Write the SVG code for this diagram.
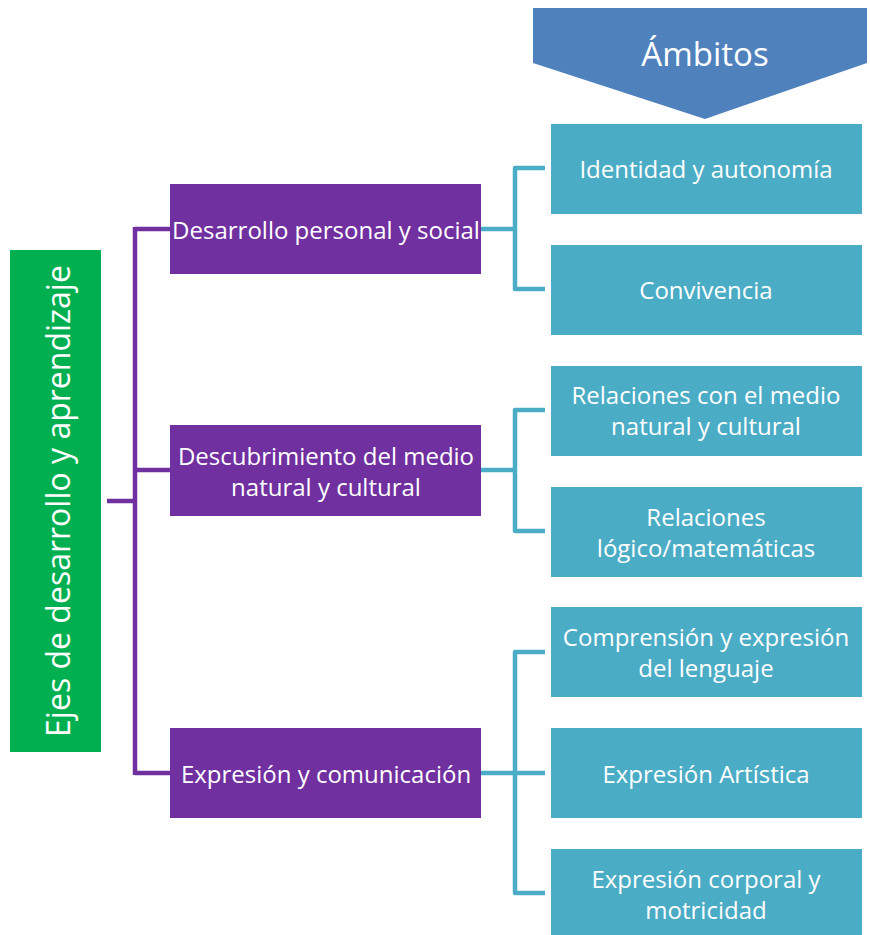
<svg xmlns="http://www.w3.org/2000/svg" width="870" height="935" viewBox="0 0 870 935">
<style>
text{font-family:"Open Sans","Liberation Sans",sans-serif;fill:#fff;text-anchor:middle;dominant-baseline:central}
.p{fill:#7030A0}.c{fill:#4BACC6}
.lp{fill:none;stroke:#7030A0;stroke-width:4.5}
.lc{fill:none;stroke:#4BACC6;stroke-width:4.5;stroke-linejoin:round}
.t{font-size:24px}
</style>
<rect width="870" height="935" fill="#fff"/>
<g id="connectors">
<path class="lp" d="M107,501H135M135,227V775M135,229H170M135,470H170M135,773H170"/>
<path class="lc" d="M481,229H515M545,168H515V289H545"/>
<path class="lc" d="M481,470H515M545,410H515V531H545"/>
<path class="lc" d="M481,773H545M545,652H515V893H545"/>
</g>
<g id="ambitos"><polygon points="533,8 867,8 867,63 705,119 533,63" fill="#4F81BD"/><text x="705" y="53" style="font-size:33px">Ámbitos</text></g>
<g id="ejes"><rect x="10" y="250" width="91" height="502" fill="#00B050"/><text transform="translate(57,501) rotate(-90)" style="font-size:32px">Ejes de desarrollo y aprendizaje</text></g>
<g id="dps"><rect class="p" x="170" y="184" width="311" height="90"/><text class="t" x="326" y="229">Desarrollo personal y social</text></g>
<g id="dmnc"><rect class="p" x="170" y="425" width="311" height="91"/><text class="t" x="326" y="455">Descubrimiento del medio</text><text class="t" x="326" y="486">natural y cultural</text></g>
<g id="eyc"><rect class="p" x="170" y="728" width="311" height="90"/><text class="t" x="326" y="773">Expresión y comunicación</text></g>
<g id="ia"><rect class="c" x="551" y="124" width="311" height="90"/><text class="t" x="706" y="168">Identidad y autonomía</text></g>
<g id="conv"><rect class="c" x="551" y="245" width="311" height="90"/><text class="t" x="706" y="289">Convivencia</text></g>
<g id="rmnc"><rect class="c" x="551" y="366" width="311" height="90"/><text class="t" x="706" y="394">Relaciones con el medio</text><text class="t" x="706" y="425">natural y cultural</text></g>
<g id="rlm"><rect class="c" x="551" y="487" width="311" height="90"/><text class="t" x="706" y="516">Relaciones</text><text class="t" x="706" y="547">lógico/matemáticas</text></g>
<g id="cel"><rect class="c" x="551" y="607" width="311" height="90"/><text class="t" x="706" y="636">Comprensión y expresión</text><text class="t" x="706" y="667">del lenguaje</text></g>
<g id="ea"><rect class="c" x="551" y="728" width="311" height="90"/><text class="t" x="706" y="773">Expresión Artística</text></g>
<g id="ecm"><rect class="c" x="551" y="849" width="311" height="86"/><text class="t" x="706" y="878">Expresión corporal y</text><text class="t" x="706" y="909">motricidad</text></g>
</svg>
